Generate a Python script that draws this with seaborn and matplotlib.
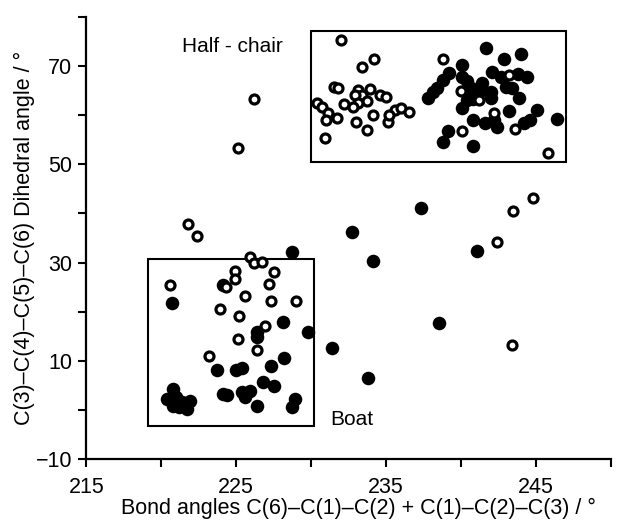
import pandas as pd
import seaborn as sns
import matplotlib.pyplot as plt
from matplotlib.patches import Rectangle
from matplotlib.ticker import FixedLocator, FuncFormatter

# open circles: bond-angle sum vs dihedral
open_x = [
    232.0, 234.2, 233.4, 231.5, 231.8, 233.1, 233.9, 233.4, 232.9, 234.6,
    235.0, 233.7, 233.1, 232.2, 232.8, 230.4, 230.7, 231.1, 231.7, 231.0,
    234.1, 233.0, 233.7, 230.9, 235.1, 235.6, 236.0, 236.5, 235.2,
    238.8, 240.0, 241.2, 243.2, 242.2, 240.1, 243.6, 245.8,
    226.2, 225.1, 221.8, 222.4,
    244.8, 243.5, 242.4, 243.4,
    220.6, 225.9, 226.2, 226.7, 227.5, 227.2, 224.9, 224.3, 224.9, 225.6,
    227.3, 229.0, 223.9, 225.2, 226.9, 225.1, 226.4, 223.2,
]
open_y = [
    75.3, 71.4, 69.8, 65.7, 65.5, 65.1, 65.3, 64.1, 64.1, 64.1,
    63.7, 62.9, 62.5, 62.3, 61.7, 62.5, 61.7, 60.5, 59.4, 59.0,
    60.1, 58.6, 57.0, 55.4, 58.6, 61.1, 61.5, 60.7, 60.0,
    71.4, 64.9, 63.1, 68.2, 60.5, 56.8, 57.2, 52.3,
    63.3, 53.4, 37.9, 35.5,
    43.2, 40.4, 34.1, 13.3,
    25.5, 31.2, 30.0, 30.2, 28.0, 25.7, 28.2, 25.1, 26.6, 23.1,
    22.1, 22.1, 20.5, 19.1, 17.0, 14.4, 12.3, 10.9,
]

# filled circles
filled_x = [
    237.8, 238.1, 238.4, 238.8, 239.2, 240.1, 241.7, 242.9, 244.0, 240.4,
    240.1, 241.4, 242.1, 242.7, 243.8, 244.4, 240.7, 241.0, 242.0, 243.0,
    243.4, 241.4, 240.4, 240.8, 242.0, 243.9, 240.1, 243.2, 245.1, 246.4,
    244.6, 244.2, 240.8, 241.6, 242.4, 242.2, 239.1, 238.8, 240.8,
    237.3, 232.7, 234.1, 241.1, 238.5, 231.4, 233.8, 229.8, 228.7,
    220.7, 224.1, 228.1, 226.4, 226.4, 223.7, 225.0, 225.4, 227.3, 228.2,
    226.8, 227.5, 224.1, 224.4, 225.4, 225.9, 225.6, 226.4, 228.9, 228.7,
    220.8, 220.4, 221.0, 221.4, 221.9, 221.2, 220.8, 221.7,
]
filled_y = [
    63.5, 64.7, 65.5, 67.2, 68.6, 70.2, 73.7, 71.4, 72.4, 67.0,
    67.8, 66.5, 68.8, 67.8, 68.4, 67.8, 65.5, 64.7, 64.7, 65.7,
    65.5, 65.0, 63.1, 63.3, 63.5, 63.5, 61.5, 60.9, 61.1, 59.2,
    59.0, 58.4, 59.0, 58.4, 57.6, 59.0, 56.8, 54.6, 53.8,
    41.0, 36.3, 30.4, 32.4, 17.8, 12.7, 6.6, 15.8, 32.2,
    21.7, 25.5, 18.0, 15.8, 14.8, 8.1, 8.1, 8.5, 8.9, 10.5,
    5.8, 4.8, 3.2, 3.0, 3.6, 3.8, 2.6, 0.8, 2.2, 0.6,
    4.2, 2.2, 2.6, 1.6, 1.8, 0.6, 0.8, 0.2,
]

open_df = pd.DataFrame({"angle": open_x, "dihedral": open_y})
filled_df = pd.DataFrame({"angle": filled_x, "dihedral": filled_y})

sns.set_style("ticks")
plt.rcParams["font.family"] = ["Liberation Sans", "DejaVu Sans"]
plt.rcParams["text.color"] = "black"
plt.rcParams["axes.labelcolor"] = "black"

fig = plt.figure(figsize=(6.17, 5.23), dpi=100)
ax = fig.add_axes([0.140, 0.122, 0.850, 0.846])

sns.scatterplot(data=filled_df, x="angle", y="dihedral", ax=ax,
                color="black", s=95, linewidth=0, zorder=3)
sns.scatterplot(data=open_df, x="angle", y="dihedral", ax=ax,
                facecolor="white", edgecolor="black", s=42, linewidth=2.3,
                zorder=4)

ax.set_xlim(215, 250)
ax.set_ylim(-10, 80)

ax.xaxis.set_major_locator(FixedLocator(list(range(215, 251, 5))))
ax.xaxis.set_major_formatter(FuncFormatter(
    lambda v, p: f"{v:.0f}" if (v - 215) % 10 == 0 and v < 250 else ""))
ax.yaxis.set_major_locator(FixedLocator(list(range(-10, 81, 10))))
ax.yaxis.set_major_formatter(FuncFormatter(
    lambda v, p: (("\u2212" + f"{abs(v):.0f}") if v < 0 else f"{v:.0f}")
    if (v + 10) % 20 == 0 and v < 80 else ""))

ax.tick_params(direction="out", length=6, width=1.5, labelsize=15.5,
               colors="black", pad=4)
ax.tick_params(axis="x", pad=7)
for side in ["top", "right"]:
    ax.spines[side].set_visible(False)
for side in ["left", "bottom"]:
    ax.spines[side].set_linewidth(1.6)
    ax.spines[side].set_color("black")

ax.set_xlabel("Bond angles C(6)\u2013C(1)\u2013C(2) + C(1)\u2013C(2)\u2013C(3) / \u00b0",
              fontsize=15.5)
ax.xaxis.set_label_coords(0.518, -0.088)
ax.set_ylabel("C(3)\u2013C(4)\u2013C(5)\u2013C(6) Dihedral angle / \u00b0",
              fontsize=15.5, labelpad=1)

# conformation boxes
ax.add_patch(Rectangle((230.0, 50.5), 17.0, 26.6, fill=False,
                       edgecolor="black", linewidth=1.5, zorder=2))
ax.add_patch(Rectangle((219.1, -3.3), 11.1, 34.1, fill=False,
                       edgecolor="black", linewidth=1.5, zorder=2))
ax.text(221.4, 73.9, "Half - chair", fontsize=15, va="center", ha="left")
ax.text(231.3, -2.0, "Boat", fontsize=15, va="center", ha="left")

fig.savefig("out.png", dpi=100)
plt.close(fig)
